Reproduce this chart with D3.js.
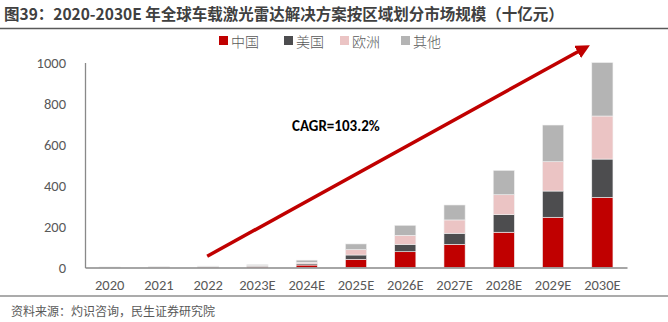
<!DOCTYPE html>
<html><head><meta charset="utf-8">
<script src="https://cdn.jsdelivr.net/npm/d3@7"></script>
<style>body{margin:0;background:#fff}svg{display:block}</style>
</head><body>
<svg id="c" width="668" height="322"></svg>
<script>
const categories = ["2020","2021","2022","2023E","2024E","2025E","2026E","2027E","2028E","2029E","2030E"];
const seriesNames = ["中国","美国","欧洲","其他"];
const china = [1, 1.5, 2, 4, 12, 40, 77, 113, 172, 245, 342];
const usa   = [0.5, 0.5, 1.5, 3, 6, 21, 36, 54, 86, 128, 187];
const europe= [0.5, 0.5, 1.5, 3, 7, 26, 44, 65, 97, 143, 210];
const other = [0.5, 1, 2, 4, 11, 28, 49, 73, 119, 179, 261];
const yTicks = [0, 200, 400, 600, 800, 1000];
const colors = ["#C00000", "#4D4D4F", "#EBC4C4", "#B4B4B4"];
const title = "图39：2020-2030E 年全球车载激光雷达解决方案按区域划分市场规模（十亿元）";
const source = "资料来源：灼识咨询，民生证券研究院";
const cagrText = "CAGR=103.2%";

const svg = d3.select("#c");
const font = "'Noto Sans CJK SC', 'Open Sans', sans-serif";
const latin = "Calibri, Carlito, 'Open Sans', 'Noto Sans', sans-serif";

// title
svg.append("text").attr("x", 4).attr("y", 20).attr("font-family", font)
  .attr("font-size", 15.5).attr("font-weight", "bold").attr("fill", "#404040").text(title);
svg.append("line").attr("x1", 0).attr("x2", 668).attr("y1", 28.5).attr("y2", 28.5)
  .attr("stroke", "#595959").attr("stroke-width", 1.5);

const x = d3.scaleBand().domain(categories).range([85, 627]).paddingInner(0.57).paddingOuter(0.285);
const y = d3.scaleLinear().domain([0, 1000]).range([267.5, 62.5]);

const data = categories.map((c, i) => ({cat: c, 中国: china[i], 美国: usa[i], 欧洲: europe[i], 其他: other[i]}));
const stack = d3.stack().keys(seriesNames)(data);

svg.append("g").selectAll("g").data(stack).join("g")
  .attr("fill", (d, i) => colors[i])
  .selectAll("rect").data(d => d).join("rect")
  .attr("x", d => x(d.data.cat)).attr("width", x.bandwidth())
  .attr("y", d => y(d[1])).attr("height", d => Math.max(0, y(d[0]) - y(d[1])))
  .attr("stroke", "#f2f2f2").attr("stroke-width", 0.6);

// axes
const yAxis = svg.append("g").attr("transform", "translate(85,0)")
  .call(d3.axisLeft(y).tickValues(yTicks).tickFormat(d3.format("d")).tickSize(0).tickPadding(19));
yAxis.select(".domain").attr("stroke", "#898989").attr("stroke-width", 1.3);
yAxis.selectAll("text").attr("font-family", latin).attr("font-size", 14.5).attr("fill", "#595959");

const xAxis = svg.append("g").attr("transform", "translate(0,267.5)")
  .call(d3.axisBottom(x).tickSize(0).tickPadding(12));
xAxis.select(".domain").attr("stroke", "#898989").attr("stroke-width", 1.3);
xAxis.selectAll("text").attr("font-family", latin).attr("font-size", 14.5).attr("fill", "#595959");

// arrow
const defs = svg.append("defs");
defs.append("marker").attr("id", "ah").attr("viewBox", "0 0 10 10").attr("refX", 5).attr("refY", 5)
  .attr("markerWidth", 4).attr("markerHeight", 4).attr("orient", "auto")
  .append("path").attr("d", "M0,0 L10,5 L0,10 z").attr("fill", "#C00000");
svg.append("line").attr("x1", x("2022") + x.bandwidth()/2 - 1).attr("y1", y(55))
  .attr("x2", x("2030E") - 8).attr("y2", y(1068))
  .attr("stroke", "#C00000").attr("stroke-width", 3.5).attr("marker-end", "url(#ah)");

svg.append("text").attr("x", 292).attr("y", 131).attr("font-family", latin)
  .attr("font-size", 15).attr("font-weight", "bold").attr("fill", "#000").text(cagrText);

// legend
const legX = [219, 284, 340, 401];
const lg = svg.append("g");
seriesNames.forEach((n, i) => {
  lg.append("rect").attr("x", legX[i]).attr("y", 36).attr("width", 9).attr("height", 9).attr("fill", colors[i]);
  lg.append("text").attr("x", legX[i] + 12).attr("y", 46.5).attr("font-family", font)
    .attr("font-size", 14).attr("font-weight", 300).attr("fill", "#595959").text(n);
});

// footer
svg.append("line").attr("x1", 0).attr("x2", 668).attr("y1", 296).attr("y2", 296)
  .attr("stroke", "#595959").attr("stroke-width", 1.2);
svg.append("text").attr("x", 11).attr("y", 316).attr("font-family", font)
  .attr("font-size", 12).attr("fill", "#595959").text(source);
</script>
</body></html>
